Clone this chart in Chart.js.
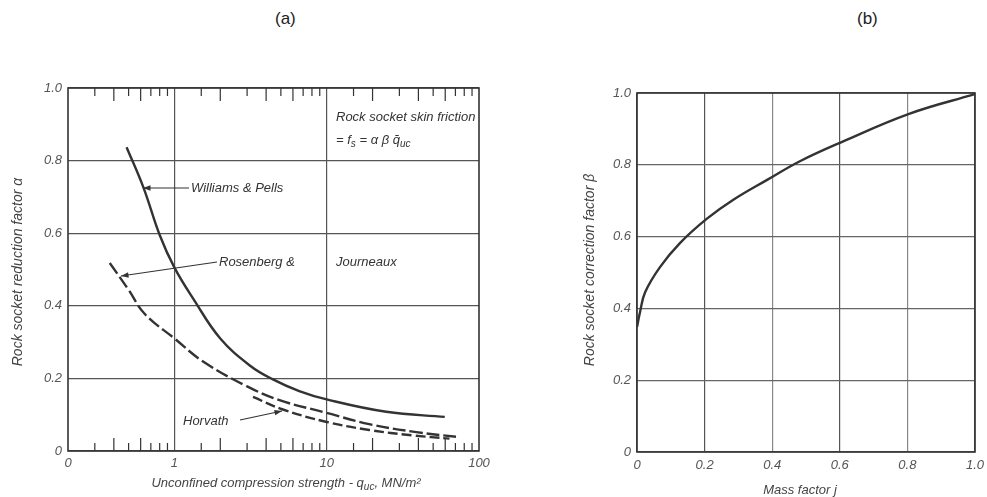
<!DOCTYPE html>
<html>
<head>
<meta charset="utf-8">
<script src="https://cdn.jsdelivr.net/npm/chart.js@4.4.1/dist/chart.umd.min.js"></script>
<style>
  body { margin: 0; background: #fff; width: 987px; height: 497px; position: relative; overflow: hidden; font-family: "Liberation Sans", Arial, sans-serif; }
  .hdr { position: absolute; top: 9px; font-size: 17px; color: #222; }
  #chartA { position: absolute; left: 0; top: 0; }
  #chartB { position: absolute; left: 540px; top: 0; }
</style>
</head>
<body>
<div class="hdr" style="left:275px">(a)</div>
<div class="hdr" style="left:857px">(b)</div>
<canvas id="chartA" width="540" height="497"></canvas>
<canvas id="chartB" width="447" height="497"></canvas>
<script>
// (a) reduction factor alpha vs unconfined compression strength (log)
var wpX = [0.485, 0.627, 0.8, 1.0, 1.35, 2.0, 3.14, 4.4, 6.6, 10, 24.6, 59.6];
var wpY = [0.837, 0.725, 0.595, 0.505, 0.415, 0.31, 0.235, 0.198, 0.165, 0.142, 0.108, 0.094];
var rjX = [0.376, 0.5, 0.637, 1.0, 1.56, 3.0, 4.9, 10, 19, 38.8, 75];
var rjY = [0.518, 0.444, 0.378, 0.31, 0.245, 0.178, 0.14, 0.105, 0.074, 0.052, 0.038];
var hvX = [3.28, 5.1, 10, 19, 36.6, 64];
var hvY = [0.149, 0.115, 0.08, 0.058, 0.043, 0.034];
var qucLabels = { '0.2': '0', '1': '1', '10': '10', '100': '100' };

// (b) correction factor beta vs mass factor j
var massX = [0, 0.009, 0.024, 0.068, 0.127, 0.207, 0.284, 0.385, 0.482, 0.607, 0.805, 1.0];
var betaY = [0.348, 0.39, 0.445, 0.515, 0.582, 0.65, 0.702, 0.758, 0.81, 0.864, 0.942, 0.997];

var ink = '#333';
var gridInk = '#555';
var tickFont = { family: 'Liberation Sans', style: 'italic', size: 13 };

function pts(xs, ys) {
  return xs.map(function (x, i) { return { x: x, y: ys[i] }; });
}

function curve(xs, ys, dash) {
  return {
    data: pts(xs, ys), showLine: true, borderColor: ink, borderWidth: 2.4,
    borderDash: dash || [], pointRadius: 0, tension: 0.4, fill: false
  };
}

function arrow(ctx, x1, y1, x2, y2) {
  var a = Math.atan2(y2 - y1, x2 - x1);
  ctx.beginPath();
  ctx.moveTo(x1, y1);
  ctx.lineTo(x2, y2);
  ctx.stroke();
  ctx.beginPath();
  ctx.moveTo(x2, y2);
  ctx.lineTo(x2 - 8 * Math.cos(a - 0.35), y2 - 8 * Math.sin(a - 0.35));
  ctx.lineTo(x2 - 8 * Math.cos(a + 0.35), y2 - 8 * Math.sin(a + 0.35));
  ctx.closePath();
  ctx.fill();
}

// draws text pieces in a row, subscripts smaller and lower
function runText(ctx, x, y, parts) {
  parts.forEach(function (p) {
    ctx.font = p.sub ? 'italic 10px "Liberation Sans"' : 'italic 13px "Liberation Sans"';
    ctx.fillText(p.t, x, y + (p.sub ? 4 : 0));
    x += ctx.measureText(p.t).width;
  });
}

// x scale: don't let edge labels shrink the plot
function fixX(h) {
  return function (s) { s.height = h; s.paddingLeft = 0; s.paddingRight = 0; };
}

var decorA = {
  id: 'decorA',
  afterDraw: function (chart) {
    var ctx = chart.ctx, a = chart.chartArea, xs = chart.scales.x;
    ctx.save();
    ctx.strokeStyle = ink;
    ctx.fillStyle = ink;
    ctx.lineWidth = 1.6;
    ctx.strokeRect(a.left, a.top, a.right - a.left, a.bottom - a.top);

    // minor log ticks inside top and bottom
    ctx.lineWidth = 1.2;
    xs.ticks.forEach(function (t) {
      var v = +t.value.toPrecision(3);
      if (v <= 0.2 || v >= 100 || v === 1 || v === 10) return;
      var m = +(v / Math.pow(10, Math.floor(Math.log10(v) + 1e-9))).toPrecision(2);
      var len = (m === 2 || m === 4 || m === 6) ? 13 : 8;
      var px = xs.getPixelForValue(v);
      ctx.beginPath();
      ctx.moveTo(px, a.top); ctx.lineTo(px, a.top + len);
      ctx.moveTo(px, a.bottom); ctx.lineTo(px, a.bottom - len);
      ctx.stroke();
    });

    ctx.font = 'italic 13px "Liberation Sans"';
    ctx.textBaseline = 'middle';
    ctx.textAlign = 'left';
    ctx.fillText('Williams & Pells', 191, 188);
    ctx.fillText('Rosenberg &', 219, 262);
    ctx.fillText('Journeaux', 336, 262);
    ctx.fillText('Horvath', 183, 421);
    ctx.fillText('Rock socket skin friction', 336, 117);
    runText(ctx, 336, 140, [{ t: '= f' }, { t: 's', sub: true }, { t: ' = α β q̄' }, { t: 'uc', sub: true }]);

    ctx.lineWidth = 1.2;
    arrow(ctx, 189, 188, 143, 188);
    arrow(ctx, 217, 262, 121, 276);
    arrow(ctx, 240, 420, 282, 411);

    // axis titles
    ctx.fillStyle = '#444';
    ctx.save();
    ctx.translate(18, 272);
    ctx.rotate(-Math.PI / 2);
    ctx.textAlign = 'center';
    ctx.font = 'italic 14px "Liberation Sans"';
    ctx.fillText('Rock socket reduction factor α', 0, 0);
    ctx.restore();

    var parts = [{ t: 'Unconfined compression strength - q' }, { t: 'uc', sub: true }, { t: ', MN/m²' }];
    var w = 0;
    parts.forEach(function (p) {
      ctx.font = p.sub ? 'italic 10px "Liberation Sans"' : 'italic 13px "Liberation Sans"';
      w += ctx.measureText(p.t).width;
    });
    runText(ctx, 286 - w / 2, 483, parts);
    ctx.restore();
  }
};

new Chart(document.getElementById('chartA'), {
  type: 'scatter',
  data: { datasets: [curve(wpX, wpY), curve(rjX, rjY, [13, 4]), curve(hvX, hvY, [10, 4])] },
  options: {
    responsive: false,
    animation: false,
    layout: { padding: { left: 0, right: 61, top: 88, bottom: 0 } },
    plugins: { legend: { display: false }, tooltip: { enabled: false } },
    scales: {
      x: {
        type: 'logarithmic', min: 0.2, max: 100,
        afterFit: fixX(46),
        border: { display: false },
        grid: {
          drawTicks: false, lineWidth: 1.2,
          color: function (c) {
            if (!c.tick) return 'transparent';
            var v = +c.tick.value.toPrecision(3);
            return (v === 1 || v === 10) ? gridInk : 'transparent';
          }
        },
        ticks: {
          autoSkip: false, maxRotation: 0, padding: 5, color: '#555', font: tickFont,
          callback: function (v) {
            var k = String(+(+v).toPrecision(3));
            return qucLabels[k] !== undefined ? qucLabels[k] : '';
          }
        }
      },
      y: {
        min: 0, max: 1,
        afterFit: function (s) { s.width = 68; },
        border: { display: false },
        grid: { drawTicks: false, color: gridInk, lineWidth: 1.2 },
        ticks: {
          stepSize: 0.2, padding: 6, color: '#555', font: tickFont,
          callback: function (v) { return v === 0 ? '0' : v.toFixed(1); }
        }
      }
    }
  },
  plugins: [decorA]
});

var decorB = {
  id: 'decorB',
  afterDraw: function (chart) {
    var ctx = chart.ctx, a = chart.chartArea;
    ctx.save();
    ctx.strokeStyle = ink;
    ctx.lineWidth = 1.6;
    ctx.strokeRect(a.left, a.top, a.right - a.left, a.bottom - a.top);
    ctx.fillStyle = '#444';
    ctx.textBaseline = 'middle';
    ctx.textAlign = 'center';
    ctx.font = 'italic 13px "Liberation Sans"';
    ctx.fillText('Mass factor j', 260, 490);
    ctx.translate(50, 270);
    ctx.rotate(-Math.PI / 2);
    ctx.font = 'italic 14px "Liberation Sans"';
    ctx.fillText('Rock socket correction factor β', 0, 0);
    ctx.restore();
  }
};

new Chart(document.getElementById('chartB'), {
  type: 'scatter',
  data: { datasets: [curve(massX, betaY)] },
  options: {
    responsive: false,
    animation: false,
    layout: { padding: { left: 0, right: 12, top: 93, bottom: 0 } },
    plugins: { legend: { display: false }, tooltip: { enabled: false } },
    scales: {
      x: {
        min: 0, max: 1,
        afterFit: fixX(45),
        border: { display: false },
        grid: {
          drawTicks: false, lineWidth: 1.2,
          color: function (c) {
            if (!c.tick) return 'transparent';
            var v = Math.round(c.tick.value * 10);
            return (v === 4 || v === 8) ? '#888' : gridInk;
          }
        },
        ticks: {
          stepSize: 0.2, padding: 6, color: '#555', font: tickFont, maxRotation: 0,
          callback: function (v) { return v === 0 ? '0' : v.toFixed(1); }
        }
      },
      y: {
        min: 0, max: 1,
        afterFit: function (s) { s.width = 97; },
        border: { display: false },
        grid: { drawTicks: false, color: '#666', lineWidth: 1.2 },
        ticks: {
          stepSize: 0.2, padding: 6, color: '#555', font: tickFont,
          callback: function (v) { return v === 0 ? '0' : v.toFixed(1); }
        }
      }
    }
  },
  plugins: [decorB]
});
</script>
</body>
</html>
